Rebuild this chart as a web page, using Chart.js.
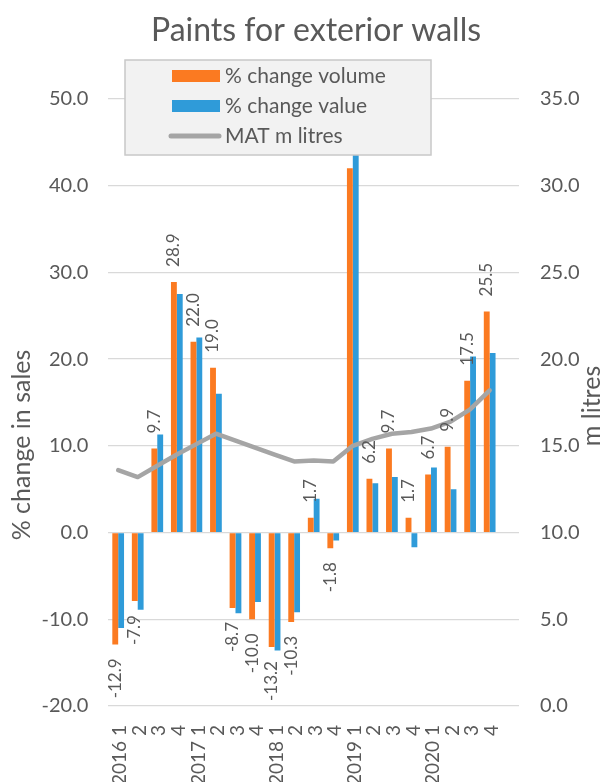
<!DOCTYPE html>
<html>
<head>
<meta charset="utf-8">
<script src="https://cdn.jsdelivr.net/npm/chart.js@4/dist/chart.umd.min.js"></script>
<style>
  html, body { margin: 0; padding: 0; background: #ffffff; }
  #wrap { width: 605px; height: 782px; }
</style>
</head>
<body>
<div id="wrap"><canvas id="chart" width="605" height="782"></canvas></div>
<script>
// Quarterly categories (last slot is an empty spacer category)
const quarters = ['2016 1', '2', '3', '4', '2017 1', '2', '3', '4', '2018 1', '2', '3', '4',
                  '2019 1', '2', '3', '4', '2020 1', '2', '3', '4', ''];

// % change in sales volume (labelled series)
const volumeChange = [-12.9, -7.9, 9.7, 28.9, 22.0, 19.0, -8.7, -10.0, -13.2, -10.3, 1.7, -1.8,
                      42.0, 6.2, 9.7, 1.7, 6.7, 9.9, 17.5, 25.5, null];

// % change in sales value
const valueChange = [-11.0, -8.9, 11.3, 27.5, 22.5, 16.0, -9.3, -8.0, -13.6, -9.2, 3.9, -0.9,
                     47.0, 5.7, 6.4, -1.7, 7.5, 5.0, 20.3, 20.7, null];

// Moving annual total, million litres (right axis)
const matLitres = [13.6, 13.2, 13.85, 14.5, 15.1, 15.7, 15.3, 14.9, 14.5, 14.1, 14.15, 14.1,
                   15.0, 15.4, 15.7, 15.8, 16.0, 16.4, 17.1, 18.2, null];

// Axis tick values
const leftTicks = [-20, -10, 0, 10, 20, 30, 40, 50];
const rightTicks = [0, 5, 10, 15, 20, 25, 30, 35];

const FONT = 'Lato, "Open Sans", sans-serif';
const TEXT = '#595959';
const ORANGE = '#fb7a21';
const BLUE = '#2f9bd9';
const GREY = '#a5a5a5';

Chart.defaults.font.family = FONT;
Chart.defaults.color = TEXT;

// Rotated value labels on the volume bars
const barLabels = {
  id: 'barLabels',
  afterDatasetsDraw(chart) {
    const meta = chart.getDatasetMeta(1);
    const ctx = chart.ctx;
    ctx.save();
    ctx.font = '17px ' + FONT;
    ctx.fillStyle = TEXT;
    ctx.textBaseline = 'middle';
    meta.data.forEach((bar, i) => {
      const v = volumeChange[i];
      if (v === null || v === undefined) return;
      ctx.save();
      if (v >= 0) {
        ctx.translate(bar.x, bar.y - 15);
        ctx.rotate(-Math.PI / 2);
        ctx.textAlign = 'left';
      } else {
        ctx.translate(bar.x, bar.y + 14);
        ctx.rotate(-Math.PI / 2);
        ctx.textAlign = 'right';
      }
      ctx.fillText(v.toFixed(1), 0, 0);
      ctx.restore();
    });
    ctx.restore();
  }
};

// Title, axis titles and the boxed legend drawn over the plot
const decorations = {
  id: 'decorations',
  afterDraw(chart) {
    const ctx = chart.ctx;
    ctx.save();
    ctx.fillStyle = TEXT;
    ctx.textAlign = 'center';
    ctx.textBaseline = 'middle';

    ctx.font = '32px ' + FONT;
    ctx.fillText('Paints for exterior walls', 316, 31);

    ctx.font = '25px ' + FONT;
    ctx.save();
    ctx.translate(22, 445);
    ctx.rotate(-Math.PI / 2);
    ctx.fillText('% change in sales', 0, 0);
    ctx.restore();

    ctx.save();
    ctx.translate(592, 406);
    ctx.rotate(-Math.PI / 2);
    ctx.fillText('m litres', 0, 0);
    ctx.restore();

    // legend box
    const bx = 125, by = 60, bw = 306, bh = 95;
    ctx.fillStyle = '#f2f2f2';
    ctx.fillRect(bx, by, bw, bh);
    ctx.strokeStyle = '#c8c8c8';
    ctx.lineWidth = 1.5;
    ctx.strokeRect(bx, by, bw, bh);

    const items = [
      { text: '% change volume', kind: 'box', color: ORANGE },
      { text: '% change value', kind: 'box', color: BLUE },
      { text: 'MAT m litres', kind: 'line', color: GREY }
    ];
    ctx.font = '21px ' + FONT;
    ctx.textAlign = 'left';
    items.forEach((it, k) => {
      const cy = 76 + k * 30;
      if (it.kind === 'box') {
        ctx.fillStyle = it.color;
        ctx.fillRect(172, cy - 6, 48, 12);
      } else {
        ctx.strokeStyle = it.color;
        ctx.lineWidth = 5;
        ctx.lineCap = 'round';
        ctx.beginPath();
        ctx.moveTo(171, cy);
        ctx.lineTo(219, cy);
        ctx.stroke();
      }
      ctx.fillStyle = TEXT;
      ctx.fillText(it.text, 225, cy);
    });
    ctx.restore();
  }
};

new Chart(document.getElementById('chart'), {
  data: {
    labels: quarters,
    datasets: [
      {
        type: 'line', label: 'MAT m litres', data: matLitres, yAxisID: 'y2',
        borderColor: GREY, borderWidth: 4.5, pointRadius: 0, tension: 0,
        borderCapStyle: 'round', borderJoinStyle: 'round', order: 0
      },
      {
        type: 'bar', label: '% change volume', data: volumeChange, yAxisID: 'y',
        backgroundColor: ORANGE, barPercentage: 1, categoryPercentage: 0.6, order: 1
      },
      {
        type: 'bar', label: '% change value', data: valueChange, yAxisID: 'y',
        backgroundColor: BLUE, barPercentage: 1, categoryPercentage: 0.6, order: 1
      }
    ]
  },
  options: {
    responsive: false,
    animation: false,
    devicePixelRatio: 1,
    layout: { padding: { top: 99, left: 0, right: 0, bottom: 0 } },
    plugins: {
      legend: { display: false },
      title: { display: false },
      tooltip: { enabled: false }
    },
    scales: {
      x: {
        grid: { display: false },
        border: { display: false },
        ticks: {
          autoSkip: false, maxRotation: 90, minRotation: 90,
          font: { size: 19 }, color: TEXT, padding: 11, labelOffset: 2
        },
        afterFit(s) { s.height = 76; }
      },
      y: {
        position: 'left', min: -20, max: 50,
        afterBuildTicks(s) { s.ticks = leftTicks.map(v => ({ value: v })); },
        grid: { color: '#d9d9d9', lineWidth: 1.3, drawTicks: false },
        border: { display: false },
        ticks: {
          font: { size: 20 }, color: TEXT, padding: 20,
          callback: v => Number(v).toFixed(1)
        },
        afterFit(s) { s.width = 108.4; }
      },
      y2: {
        position: 'right', min: 0, max: 35,
        afterBuildTicks(s) { s.ticks = rightTicks.map(v => ({ value: v })); },
        grid: { drawOnChartArea: false, drawTicks: false },
        border: { display: false },
        ticks: {
          font: { size: 20 }, color: TEXT, padding: 21,
          callback: v => Number(v).toFixed(1)
        },
        afterFit(s) { s.width = 86; }
      }
    }
  },
  plugins: [barLabels, decorations]
});
</script>
</body>
</html>
